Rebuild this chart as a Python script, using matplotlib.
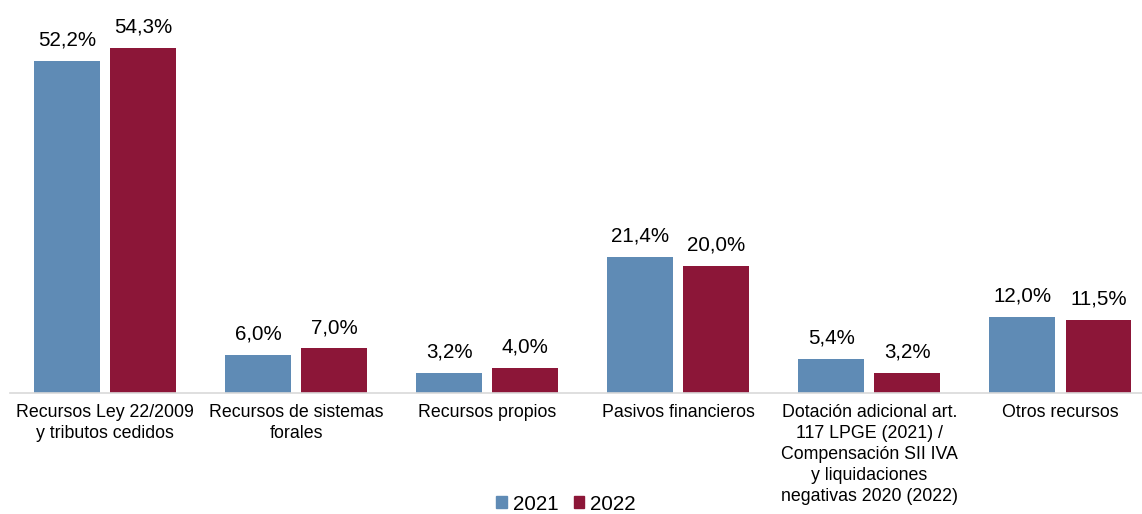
import numpy as np
import matplotlib.pyplot as plt
from matplotlib.patches import Patch

plt.rcParams['font.family'] = ['Liberation Sans', 'DejaVu Sans']

categorias = [
    "Recursos Ley 22/2009\ny tributos cedidos",
    "Recursos de sistemas\nforales",
    "Recursos propios",
    "Pasivos financieros",
    "Dotación adicional art.\n117 LPGE (2021) /\nCompensación SII IVA\ny liquidaciones\nnegativas 2020 (2022)",
    "Otros recursos",
]
valores_2021 = [52.2, 6.0, 3.2, 21.4, 5.4, 12.0]
valores_2022 = [54.3, 7.0, 4.0, 20.0, 3.2, 11.5]
etiquetas = ["2021", "2022"]

azul = "#5F8BB5"
granate = "#8C1638"

W, H = 1142, 514
fig = plt.figure(figsize=(W / 100, H / 100), dpi=100)
# axes runs a bit past the right edge, the last group is cut like the original layout
ax = fig.add_axes([9.5 / W, (H - 393) / H, (1156 - 9.5) / W, 393 / H])

x = np.arange(len(categorias))
ancho = 0.345
desp = 0.199
b1 = ax.bar(x - desp, valores_2021, ancho, color=azul)
b2 = ax.bar(x + desp, valores_2022, ancho, color=granate)

for barras, vals in ((b1, valores_2021), (b2, valores_2022)):
    for r, v in zip(barras, vals):
        ax.annotate(f"{v:.1f}%".replace(".", ","),
                    (r.get_x() + r.get_width() / 2, v),
                    xytext=(0, 8), textcoords="offset points",
                    ha="center", va="bottom", fontsize=14.8, color="#000000")

ax.set_xlim(-0.5, len(categorias) - 0.5)
ax.set_ylim(0, 61.8)
ax.set_xticks(x)
ax.set_xticklabels(categorias, fontsize=12.8, linespacing=1.3, va="top")
ax.tick_params(axis="x", length=0, pad=8)
ax.set_yticks([])
for s in ("top", "right", "left"):
    ax.spines[s].set_visible(False)
ax.spines["bottom"].set_color("#D9D9D9")
ax.spines["bottom"].set_linewidth(1.2)

handles = [Patch(color=azul), Patch(color=granate)]
fig.legend(handles, etiquetas, loc="center", bbox_to_anchor=(566 / W, 1 - 504 / H),
           ncol=2, frameon=False, fontsize=14.8, handlelength=0.5, handleheight=0.5,
           handletextpad=0.3, columnspacing=0.75, borderpad=0.1)

fig.savefig("out.png", dpi=100)
